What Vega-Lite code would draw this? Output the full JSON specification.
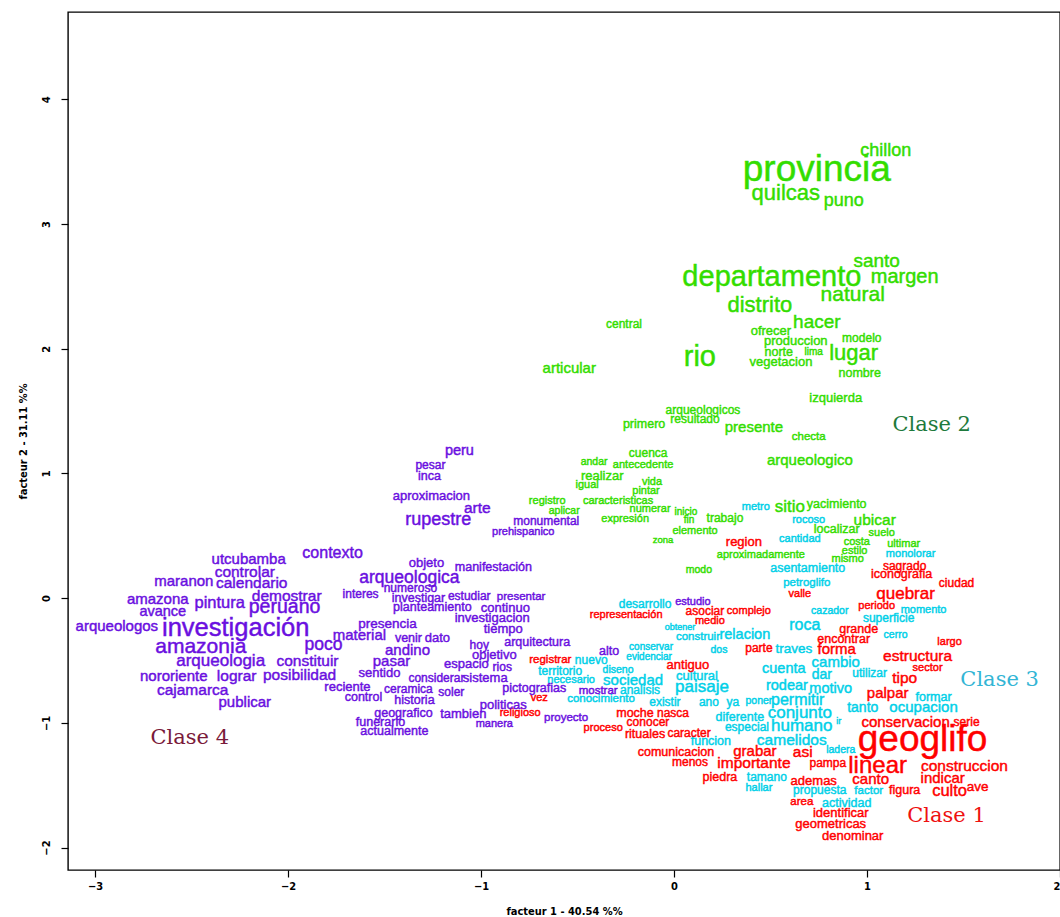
{
  "$schema": "https://vega.github.io/schema/vega-lite/v6.json",
  "width": 992,
  "height": 858,
  "autosize": {"type": "none"},
  "padding": {"left": 68, "top": 12, "right": 0, "bottom": 47},
  "background": "#ffffff",
  "config": {
    "view": {"stroke": "#000000", "strokeWidth": 1.4},
    "axis": {
      "grid": false,
      "domain": false,
      "tickColor": "#000000",
      "tickSize": 7,
      "tickWidth": 1.2,
      "labelFont": "Liberation Sans Narrow, DejaVu Sans Condensed, Liberation Sans, sans-serif",
      "labelFontWeight": "bold",
      "labelFontSize": 11,
      "labelColor": "#000000",
      "titleFont": "Liberation Sans Narrow, DejaVu Sans Condensed, Liberation Sans, sans-serif",
      "titleFontWeight": "bold",
      "titleFontSize": 11,
      "titleColor": "#000000"
    }
  },
  "datasets": {
    "words": [
      {"w":"chillon","x":1.097,"y":3.585,"c":"2","f":18},
      {"w":"provincia","x":0.740,"y":3.432,"c":"2","f":37},
      {"w":"quilcas","x":0.579,"y":3.248,"c":"2","f":22},
      {"w":"puno","x":0.879,"y":3.184,"c":"2","f":18},
      {"w":"santo","x":1.050,"y":2.702,"c":"2","f":19},
      {"w":"departamento","x":0.507,"y":2.574,"c":"2","f":29},
      {"w":"margen","x":1.195,"y":2.574,"c":"2","f":20},
      {"w":"natural","x":0.926,"y":2.430,"c":"2","f":21},
      {"w":"distrito","x":0.445,"y":2.350,"c":"2","f":22},
      {"w":"hacer","x":0.740,"y":2.213,"c":"2","f":19},
      {"w":"central","x":-0.259,"y":2.197,"c":"2","f":12},
      {"w":"rio","x":0.134,"y":1.933,"c":"2","f":29},
      {"w":"articular","x":-0.543,"y":1.844,"c":"2","f":15},
      {"w":"ofrecer","x":0.502,"y":2.141,"c":"2","f":13},
      {"w":"produccion","x":0.631,"y":2.061,"c":"2","f":13},
      {"w":"modelo","x":0.973,"y":2.085,"c":"2","f":12},
      {"w":"norte","x":0.543,"y":1.973,"c":"2","f":12.5},
      {"w":"lima","x":0.724,"y":1.973,"c":"2","f":10},
      {"w":"lugar","x":0.931,"y":1.965,"c":"2","f":22},
      {"w":"vegetacion","x":0.554,"y":1.893,"c":"2","f":13},
      {"w":"nombre","x":0.962,"y":1.804,"c":"2","f":12.5},
      {"w":"izquierda","x":0.838,"y":1.604,"c":"2","f":13},
      {"w":"arqueologicos","x":0.150,"y":1.508,"c":"2","f":12},
      {"w":"resultado","x":0.109,"y":1.435,"c":"2","f":12},
      {"w":"primero","x":-0.155,"y":1.395,"c":"2","f":12.5},
      {"w":"presente","x":0.414,"y":1.371,"c":"2","f":15},
      {"w":"checta","x":0.698,"y":1.291,"c":"2","f":11.5},
      {"w":"arqueologico","x":0.704,"y":1.107,"c":"2","f":15},
      {"w":"cuenca","x":-0.134,"y":1.163,"c":"2","f":12},
      {"w":"andar","x":-0.414,"y":1.091,"c":"2","f":10.5},
      {"w":"antecedente","x":-0.160,"y":1.067,"c":"2","f":11},
      {"w":"realizar","x":-0.372,"y":0.978,"c":"2","f":13},
      {"w":"igual","x":-0.450,"y":0.906,"c":"2","f":11},
      {"w":"vida","x":-0.114,"y":0.930,"c":"2","f":11},
      {"w":"pintar","x":-0.145,"y":0.858,"c":"2","f":11},
      {"w":"registro","x":-0.657,"y":0.778,"c":"2","f":11},
      {"w":"caracteristicas","x":-0.290,"y":0.778,"c":"2","f":11},
      {"w":"aplicar","x":-0.569,"y":0.698,"c":"2","f":10.5},
      {"w":"numerar","x":-0.124,"y":0.714,"c":"2","f":11},
      {"w":"expresión","x":-0.253,"y":0.634,"c":"2","f":11},
      {"w":"inicio","x":0.062,"y":0.690,"c":"2","f":10},
      {"w":"fin","x":0.078,"y":0.626,"c":"2","f":10},
      {"w":"trabajo","x":0.264,"y":0.642,"c":"2","f":12},
      {"w":"elemento","x":0.109,"y":0.537,"c":"2","f":11},
      {"w":"zona","x":-0.057,"y":0.465,"c":"2","f":9.5},
      {"w":"sitio","x":0.600,"y":0.730,"c":"2","f":17},
      {"w":"yacimiento","x":0.843,"y":0.754,"c":"2","f":12.5},
      {"w":"ubicar","x":1.040,"y":0.626,"c":"2","f":15.5},
      {"w":"localizar","x":0.843,"y":0.553,"c":"2","f":12.5},
      {"w":"suelo","x":1.076,"y":0.521,"c":"2","f":11},
      {"w":"costa","x":0.947,"y":0.449,"c":"2","f":11},
      {"w":"ultimar","x":1.190,"y":0.433,"c":"2","f":11},
      {"w":"estilo","x":0.936,"y":0.377,"c":"2","f":11},
      {"w":"aproximadamente","x":0.450,"y":0.345,"c":"2","f":11},
      {"w":"mismo","x":0.900,"y":0.313,"c":"2","f":11},
      {"w":"modo","x":0.129,"y":0.225,"c":"2","f":10.5},

      {"w":"metro","x":0.424,"y":0.730,"c":"3","f":11},
      {"w":"rocoso","x":0.698,"y":0.626,"c":"3","f":11},
      {"w":"cantidad","x":0.652,"y":0.473,"c":"3","f":11},
      {"w":"monolorar","x":1.226,"y":0.353,"c":"3","f":11},
      {"w":"asentamiento","x":0.693,"y":0.241,"c":"3","f":12.5},
      {"w":"petroglifo","x":0.688,"y":0.120,"c":"3","f":11.5},
      {"w":"cazador","x":0.807,"y":-0.104,"c":"3","f":10.5},
      {"w":"momento","x":1.293,"y":-0.096,"c":"3","f":11},
      {"w":"superficie","x":1.112,"y":-0.160,"c":"3","f":12},
      {"w":"roca","x":0.678,"y":-0.217,"c":"3","f":16},
      {"w":"cerro","x":1.148,"y":-0.297,"c":"3","f":10.5},
      {"w":"relacion","x":0.367,"y":-0.297,"c":"3","f":14.5},
      {"w":"construir","x":0.124,"y":-0.313,"c":"3","f":11.5},
      {"w":"obtener","x":0.031,"y":-0.233,"c":"3","f":9},
      {"w":"desarrollo","x":-0.150,"y":-0.048,"c":"3","f":12},
      {"w":"dos","x":0.233,"y":-0.417,"c":"3","f":10.5},
      {"w":"traves","x":0.621,"y":-0.409,"c":"3","f":13.5},
      {"w":"cambio","x":0.838,"y":-0.513,"c":"3","f":15},
      {"w":"cuenta","x":0.569,"y":-0.569,"c":"3","f":14.5},
      {"w":"utilizar","x":1.014,"y":-0.601,"c":"3","f":12},
      {"w":"dar","x":0.766,"y":-0.617,"c":"3","f":14},
      {"w":"cultural","x":0.119,"y":-0.625,"c":"3","f":13},
      {"w":"paisaje","x":0.145,"y":-0.714,"c":"3","f":17},
      {"w":"rodear","x":0.585,"y":-0.706,"c":"3","f":14.5},
      {"w":"motivo","x":0.812,"y":-0.730,"c":"3","f":14.5},
      {"w":"formar","x":1.345,"y":-0.794,"c":"3","f":12.5},
      {"w":"permitir","x":0.641,"y":-0.818,"c":"3","f":16},
      {"w":"existir","x":-0.047,"y":-0.834,"c":"3","f":12},
      {"w":"ano","x":0.181,"y":-0.834,"c":"3","f":12},
      {"w":"ya","x":0.305,"y":-0.834,"c":"3","f":12},
      {"w":"poner","x":0.440,"y":-0.826,"c":"3","f":10.5},
      {"w":"tanto","x":0.978,"y":-0.882,"c":"3","f":14},
      {"w":"ocupacion","x":1.293,"y":-0.874,"c":"3","f":15},
      {"w":"conjunto","x":0.652,"y":-0.922,"c":"3","f":17},
      {"w":"diferente","x":0.341,"y":-0.954,"c":"3","f":12.5},
      {"w":"especial","x":0.378,"y":-1.034,"c":"3","f":12},
      {"w":"humano","x":0.662,"y":-1.026,"c":"3","f":17},
      {"w":"ir","x":0.854,"y":-0.986,"c":"3","f":9},
      {"w":"funcion","x":0.191,"y":-1.147,"c":"3","f":12.5},
      {"w":"camelidos","x":0.610,"y":-1.139,"c":"3","f":15.5},
      {"w":"ladera","x":0.864,"y":-1.219,"c":"3","f":10.5},
      {"w":"tamano","x":0.481,"y":-1.435,"c":"3","f":12},
      {"w":"hallar","x":0.440,"y":-1.524,"c":"3","f":11},
      {"w":"propuesta","x":0.755,"y":-1.540,"c":"3","f":12},
      {"w":"factor","x":1.009,"y":-1.548,"c":"3","f":11.5},
      {"w":"actividad","x":0.895,"y":-1.644,"c":"3","f":12.5},
      {"w":"conservar","x":-0.119,"y":-0.393,"c":"3","f":10},
      {"w":"evidenciar","x":-0.129,"y":-0.473,"c":"3","f":10},
      {"w":"nuevo","x":-0.429,"y":-0.497,"c":"3","f":12},
      {"w":"territorio","x":-0.590,"y":-0.585,"c":"3","f":12},
      {"w":"diseno","x":-0.290,"y":-0.577,"c":"3","f":10.5},
      {"w":"necesario","x":-0.533,"y":-0.658,"c":"3","f":11},
      {"w":"sociedad","x":-0.212,"y":-0.658,"c":"3","f":15},
      {"w":"analisis","x":-0.176,"y":-0.738,"c":"3","f":12},
      {"w":"conocimiento","x":-0.378,"y":-0.810,"c":"3","f":11.5},

      {"w":"region","x":0.362,"y":0.449,"c":"1","f":13},
      {"w":"sagrado","x":1.195,"y":0.257,"c":"1","f":12},
      {"w":"iconografia","x":1.179,"y":0.192,"c":"1","f":12.5},
      {"w":"ciudad","x":1.464,"y":0.120,"c":"1","f":12},
      {"w":"valle","x":0.652,"y":0.032,"c":"1","f":11},
      {"w":"quebrar","x":1.200,"y":0.032,"c":"1","f":17},
      {"w":"asociar","x":0.160,"y":-0.104,"c":"1","f":12},
      {"w":"complejo","x":0.388,"y":-0.104,"c":"1","f":11},
      {"w":"medio","x":0.186,"y":-0.184,"c":"1","f":11},
      {"w":"periodo","x":1.050,"y":-0.064,"c":"1","f":11},
      {"w":"grande","x":0.957,"y":-0.249,"c":"1","f":12.5},
      {"w":"encontrar","x":0.879,"y":-0.329,"c":"1","f":12.5},
      {"w":"largo","x":1.428,"y":-0.353,"c":"1","f":11},
      {"w":"parte","x":0.440,"y":-0.401,"c":"1","f":12},
      {"w":"forma","x":0.843,"y":-0.409,"c":"1","f":15},
      {"w":"estructura","x":1.262,"y":-0.465,"c":"1","f":15.5},
      {"w":"antiguo","x":0.072,"y":-0.537,"c":"1","f":13},
      {"w":"sector","x":1.314,"y":-0.561,"c":"1","f":11},
      {"w":"tipo","x":1.195,"y":-0.642,"c":"1","f":15.5},
      {"w":"palpar","x":1.107,"y":-0.762,"c":"1","f":15},
      {"w":"representación","x":-0.248,"y":-0.136,"c":"1","f":11},
      {"w":"registrar","x":-0.641,"y":-0.497,"c":"1","f":11.5},
      {"w":"vez","x":-0.698,"y":-0.802,"c":"1","f":11},
      {"w":"religioso","x":-0.797,"y":-0.922,"c":"1","f":11},
      {"w":"moche","x":-0.202,"y":-0.922,"c":"1","f":12.5},
      {"w":"nasca","x":-0.005,"y":-0.922,"c":"1","f":12},
      {"w":"conocer","x":-0.135,"y":-0.994,"c":"1","f":12},
      {"w":"proceso","x":-0.367,"y":-1.042,"c":"1","f":11},
      {"w":"rituales","x":-0.150,"y":-1.091,"c":"1","f":12.5},
      {"w":"caracter","x":0.078,"y":-1.083,"c":"1","f":12},
      {"w":"conservacion","x":1.200,"y":-0.994,"c":"1","f":15},
      {"w":"serie","x":1.516,"y":-0.994,"c":"1","f":12},
      {"w":"geoglifo","x":1.288,"y":-1.139,"c":"1","f":37},
      {"w":"comunicacion","x":0.010,"y":-1.235,"c":"1","f":12.5},
      {"w":"grabar","x":0.419,"y":-1.227,"c":"1","f":15},
      {"w":"asi","x":0.667,"y":-1.235,"c":"1","f":15.5},
      {"w":"menos","x":0.083,"y":-1.315,"c":"1","f":12},
      {"w":"importante","x":0.414,"y":-1.323,"c":"1","f":15.5},
      {"w":"pampa","x":0.797,"y":-1.323,"c":"1","f":12},
      {"w":"linear","x":1.055,"y":-1.347,"c":"1","f":24},
      {"w":"construccion","x":1.505,"y":-1.347,"c":"1","f":15.5},
      {"w":"piedra","x":0.238,"y":-1.435,"c":"1","f":12.5},
      {"w":"ademas","x":0.724,"y":-1.468,"c":"1","f":13},
      {"w":"canto","x":1.019,"y":-1.452,"c":"1","f":15},
      {"w":"indicar","x":1.392,"y":-1.443,"c":"1","f":15},
      {"w":"figura","x":1.195,"y":-1.540,"c":"1","f":12.5},
      {"w":"culto","x":1.428,"y":-1.548,"c":"1","f":16.5},
      {"w":"ave","x":1.573,"y":-1.516,"c":"1","f":13.5},
      {"w":"area","x":0.662,"y":-1.636,"c":"1","f":11.5},
      {"w":"identificar","x":0.864,"y":-1.724,"c":"1","f":13},
      {"w":"geometricas","x":0.812,"y":-1.812,"c":"1","f":13},
      {"w":"denominar","x":0.926,"y":-1.909,"c":"1","f":13},

      {"w":"peru","x":-1.112,"y":1.179,"c":"4","f":14.5},
      {"w":"pesar","x":-1.262,"y":1.067,"c":"4","f":12},
      {"w":"inca","x":-1.267,"y":0.978,"c":"4","f":12.5},
      {"w":"aproximacion","x":-1.257,"y":0.818,"c":"4","f":13},
      {"w":"arte","x":-1.019,"y":0.722,"c":"4","f":15.5},
      {"w":"rupestre","x":-1.221,"y":0.626,"c":"4","f":18},
      {"w":"monumental","x":-0.662,"y":0.617,"c":"4","f":12},
      {"w":"prehispanico","x":-0.781,"y":0.529,"c":"4","f":11},
      {"w":"contexto","x":-1.769,"y":0.361,"c":"4","f":16},
      {"w":"utcubamba","x":-2.204,"y":0.313,"c":"4","f":15},
      {"w":"objeto","x":-1.283,"y":0.281,"c":"4","f":13},
      {"w":"manifestación","x":-0.936,"y":0.249,"c":"4","f":12.5},
      {"w":"controlar","x":-2.224,"y":0.208,"c":"4","f":15.5},
      {"w":"maranon","x":-2.540,"y":0.136,"c":"4","f":15},
      {"w":"calendario","x":-2.188,"y":0.120,"c":"4","f":15.5},
      {"w":"arqueologica","x":-1.371,"y":0.160,"c":"4","f":17.5},
      {"w":"numeroso","x":-1.366,"y":0.080,"c":"4","f":12},
      {"w":"interes","x":-1.624,"y":0.032,"c":"4","f":12},
      {"w":"investigar","x":-1.324,"y":0.000,"c":"4","f":12.5},
      {"w":"estudiar","x":-1.061,"y":0.016,"c":"4","f":12},
      {"w":"presentar","x":-0.792,"y":0.008,"c":"4","f":11.5},
      {"w":"amazona","x":-2.675,"y":-0.008,"c":"4","f":15},
      {"w":"pintura","x":-2.354,"y":-0.040,"c":"4","f":16.5},
      {"w":"demostrar","x":-2.007,"y":0.016,"c":"4","f":15.5},
      {"w":"peruano","x":-2.018,"y":-0.072,"c":"4","f":19.5},
      {"w":"avance","x":-2.649,"y":-0.112,"c":"4","f":14.5},
      {"w":"arqueologos","x":-2.887,"y":-0.225,"c":"4","f":15},
      {"w":"investigación","x":-2.271,"y":-0.241,"c":"4","f":25.5},
      {"w":"planteamiento","x":-1.252,"y":-0.072,"c":"4","f":12.5},
      {"w":"continuo","x":-0.874,"y":-0.080,"c":"4","f":13},
      {"w":"investigacion","x":-0.942,"y":-0.160,"c":"4","f":13},
      {"w":"presencia","x":-1.485,"y":-0.208,"c":"4","f":13.5},
      {"w":"tiempo","x":-0.885,"y":-0.249,"c":"4","f":13},
      {"w":"material","x":-1.630,"y":-0.297,"c":"4","f":15},
      {"w":"venir","x":-1.376,"y":-0.321,"c":"4","f":12.5},
      {"w":"dato","x":-1.226,"y":-0.321,"c":"4","f":13},
      {"w":"arquitectura","x":-0.709,"y":-0.353,"c":"4","f":12.5},
      {"w":"poco","x":-1.816,"y":-0.377,"c":"4","f":17.5},
      {"w":"hoy","x":-1.009,"y":-0.377,"c":"4","f":12},
      {"w":"amazonia","x":-2.452,"y":-0.393,"c":"4","f":21},
      {"w":"andino","x":-1.381,"y":-0.417,"c":"4","f":15},
      {"w":"objetivo","x":-0.931,"y":-0.457,"c":"4","f":13},
      {"w":"alto","x":-0.336,"y":-0.425,"c":"4","f":12.5},
      {"w":"arqueologia","x":-2.349,"y":-0.505,"c":"4","f":17},
      {"w":"constituir","x":-1.899,"y":-0.505,"c":"4","f":15.5},
      {"w":"pasar","x":-1.464,"y":-0.505,"c":"4","f":15},
      {"w":"espacio","x":-1.076,"y":-0.529,"c":"4","f":13},
      {"w":"rios","x":-0.890,"y":-0.553,"c":"4","f":12},
      {"w":"sentido","x":-1.526,"y":-0.601,"c":"4","f":13},
      {"w":"nororiente","x":-2.592,"y":-0.625,"c":"4","f":15},
      {"w":"lograr","x":-2.266,"y":-0.625,"c":"4","f":15.5},
      {"w":"posibilidad","x":-1.940,"y":-0.617,"c":"4","f":15.5},
      {"w":"considerar","x":-1.231,"y":-0.642,"c":"4","f":12},
      {"w":"sistema","x":-0.978,"y":-0.642,"c":"4","f":13},
      {"w":"pictografias","x":-0.724,"y":-0.722,"c":"4","f":12.5},
      {"w":"mostrar","x":-0.393,"y":-0.746,"c":"4","f":11.5},
      {"w":"reciente","x":-1.692,"y":-0.714,"c":"4","f":13},
      {"w":"ceramica","x":-1.376,"y":-0.730,"c":"4","f":12},
      {"w":"soler","x":-1.154,"y":-0.754,"c":"4","f":12},
      {"w":"cajamarca","x":-2.494,"y":-0.738,"c":"4","f":15.5},
      {"w":"control","x":-1.609,"y":-0.794,"c":"4","f":12.5},
      {"w":"historia","x":-1.345,"y":-0.818,"c":"4","f":12.5},
      {"w":"publicar","x":-2.224,"y":-0.834,"c":"4","f":15},
      {"w":"politicas","x":-0.885,"y":-0.858,"c":"4","f":13},
      {"w":"geografico","x":-1.402,"y":-0.922,"c":"4","f":12.5},
      {"w":"tambien","x":-1.092,"y":-0.930,"c":"4","f":13},
      {"w":"proyecto","x":-0.559,"y":-0.962,"c":"4","f":11.5},
      {"w":"funerario","x":-1.521,"y":-0.994,"c":"4","f":12.5},
      {"w":"manera","x":-0.931,"y":-1.010,"c":"4","f":11},
      {"w":"actualmente","x":-1.449,"y":-1.067,"c":"4","f":12.5},
      {"w":"estudio","x":0.098,"y":-0.032,"c":"4","f":11}
    ],
    "labels": [
      {"label":"Clase 1","x":1.412,"y":-1.748},
      {"label":"Clase 2","x":1.335,"y":1.387},
      {"label":"Clase 3","x":1.687,"y":-0.658},
      {"label":"Clase 4","x":-2.509,"y":-1.123}
    ]
  },
  "layer": [
    {
      "data": {"name": "words"},
      "mark": {"type": "text", "font": "Liberation Sans", "fontWeight": "normal", "strokeWidth": 0.45},
      "encoding": {
        "x": {
          "field": "x", "type": "quantitative",
          "scale": {"domain": [-3.14, 2.0], "nice": false, "zero": false},
          "axis": {"values": [-3, -2, -1, 0, 1, 2], "format": "d", "title": "facteur 1 - 40.54 %%", "labelPadding": 3, "titlePadding": 14}
        },
        "y": {
          "field": "y", "type": "quantitative",
          "scale": {"domain": [-2.18, 4.70], "nice": false, "zero": false},
          "axis": {"values": [-2, -1, 0, 1, 2, 3, 4], "format": "d", "title": "facteur 2 - 31.11 %%", "labelAngle": -90, "labelAlign": "center", "labelBaseline": "bottom", "labelPadding": 10, "titlePadding": 12}
        },
        "text": {"field": "w"},
        "color": {
          "field": "c", "type": "nominal",
          "scale": {"domain": ["1", "2", "3", "4"], "range": ["#ff0000", "#33dd00", "#00d0e8", "#6a0fe0"]},
          "legend": null
        },
        "stroke": {
          "field": "c", "type": "nominal",
          "scale": {"domain": ["1", "2", "3", "4"], "range": ["#ff0000", "#33dd00", "#00d0e8", "#6a0fe0"]},
          "legend": null
        },
        "size": {
          "field": "f", "type": "quantitative",
          "scale": {"type": "linear", "domain": [0, 40], "range": [0, 40]},
          "legend": null
        }
      }
    },
    {
      "mark": {"type": "rule", "strokeDash": [5, 4], "color": "#222222", "strokeWidth": 1.2},
      "encoding": {"x": {"datum": 0, "type": "quantitative"}}
    },
    {
      "mark": {"type": "rule", "strokeDash": [5, 4], "color": "#222222", "strokeWidth": 1.2},
      "encoding": {"y": {"datum": 0, "type": "quantitative"}}
    },
    {
      "data": {"name": "labels"},
      "mark": {"type": "text", "font": "DejaVu Serif", "fontSize": 21},
      "encoding": {
        "x": {"field": "x", "type": "quantitative"},
        "y": {"field": "y", "type": "quantitative"},
        "text": {"field": "label"},
        "color": {
          "field": "label", "type": "nominal",
          "scale": {"domain": ["Clase 1", "Clase 2", "Clase 3", "Clase 4"], "range": ["#ee1111", "#1e7a3c", "#33b5d5", "#7a1a3a"]},
          "legend": null
        }
      }
    }
  ],
  "resolve": {"scale": {"color": "independent", "stroke": "independent"}}
}
